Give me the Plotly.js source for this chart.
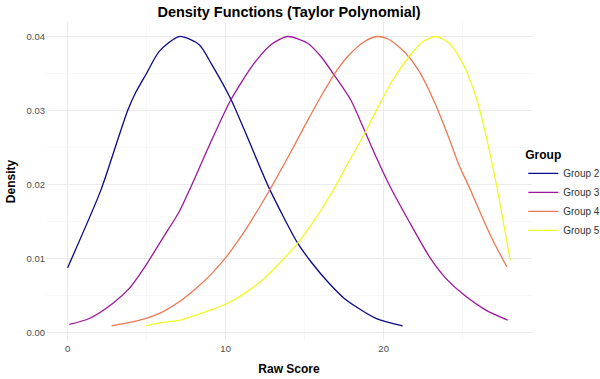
<!DOCTYPE html>
<html>
<head>
<meta charset="utf-8">
<script src="https://cdn.plot.ly/plotly-3.0.1.min.js"></script>
<style>html,body{margin:0;padding:0;background:#fff;}#chart{width:600px;height:379px;}</style>
</head>
<body>
<div id="chart"></div>
<script>
const groupNames = ["Group 2", "Group 3", "Group 4", "Group 5"];
const groupColors = ["#0D0887", "#9C179E", "#ED7953", "#F0F921"];

const g2x = [0, 2.11, 3.16, 3.80, 4.32, 4.96, 5.80, 7.06, 8.33, 9.07, 10.34, 11.18, 12.76, 14.56, 15.40, 16.46, 17.51, 19.51, 21.20];
const g2y = [0.0088, 0.0193, 0.0260, 0.0300, 0.0325, 0.0349, 0.0380, 0.0400, 0.0389, 0.0364, 0.0315, 0.0274, 0.0195, 0.0121, 0.0096, 0.0069, 0.00465, 0.00195, 0.00095];

const g3x = [0.1, 1.37, 2.85, 3.90, 4.96, 6.01, 7.06, 7.80, 9.07, 10.34, 11.81, 12.87, 13.92, 15.19, 16.03, 16.87, 17.93, 18.77, 19.51, 20.35, 21.62, 22.89, 23.94, 25.10, 26.47, 27.85];
const g3y = [0.00113, 0.00194, 0.00397, 0.0060, 0.00915, 0.01276, 0.01635, 0.0197, 0.0258, 0.0315, 0.0364, 0.0389, 0.0400, 0.0391, 0.0373, 0.0348, 0.0314, 0.0274, 0.0238, 0.0200, 0.0150, 0.0103, 0.00735, 0.0051, 0.00307, 0.00172];

const g4x = [2.78, 4.11, 4.96, 6.01, 7.06, 8.12, 9.07, 10.13, 11.18, 12.23, 12.90, 13.92, 14.97, 16.03, 16.87, 17.72, 18.77, 19.60, 20.35, 21.41, 22.25, 23.31, 24.15, 24.78, 25.45, 26.27, 26.90, 27.80];
const g4y = [0.00095, 0.00149, 0.00195, 0.00284, 0.0042, 0.0060, 0.0079, 0.0105, 0.01365, 0.01726, 0.0197, 0.0236, 0.0278, 0.0319, 0.0349, 0.0373, 0.0393, 0.0400, 0.0396, 0.0377, 0.0353, 0.0307, 0.0262, 0.0226, 0.0195, 0.01546, 0.01253, 0.0089];

const g5x = [4.96, 6.01, 7.06, 8.12, 9.07, 10.13, 11.18, 12.44, 13.50, 14.56, 15.40, 16.24, 16.93, 17.93, 18.77, 19.51, 20.57, 21.62, 22.47, 23.31, 24.15, 25.00, 25.84, 26.47, 27.11, 27.53, 28.01];
const g5y = [0.00095, 0.0014, 0.0017, 0.0024, 0.0031, 0.0040, 0.0053, 0.00735, 0.0096, 0.0121, 0.01455, 0.01726, 0.0197, 0.0236, 0.0268, 0.0299, 0.0341, 0.0373, 0.0393, 0.0400, 0.0391, 0.0364, 0.0319, 0.0267, 0.0203, 0.0155, 0.0098];

const xTickVals = [0, 10, 20];
const yTickVals = [0, 0.01, 0.02, 0.03, 0.04];

const xs = [g2x, g3x, g4x, g5x];
const ys = [g2y, g3y, g4y, g5y];

const traces = groupNames.map((name, i) => ({
  type: "scatter",
  mode: "lines",
  name: name,
  x: xs[i],
  y: ys[i],
  line: {color: groupColors[i], width: 1.3, shape: "spline", smoothing: 0.7}
}));

const layout = {
  width: 600,
  height: 379,
  paper_bgcolor: "#ffffff",
  plot_bgcolor: "#ffffff",
  margin: {l: 46, r: 68, t: 22, b: 38, autoexpand: false},
  font: {family: "Liberation Sans, Arial, sans-serif", color: "#4d4d4d", size: 9.5},
  title: {
    text: "<b>Density Functions (Taylor Polynomial)</b>",
    font: {size: 14.5, color: "#000000", family: "Liberation Sans, Arial, sans-serif"},
    x: 0.5, xref: "paper", xanchor: "center",
    y: 0.968, yref: "container", yanchor: "middle"
  },
  xaxis: {
    range: [-1.37, 29.39],
    tickvals: xTickVals,
    ticktext: xTickVals.map(String),
    showgrid: true,
    gridcolor: "#ebebeb",
    gridwidth: 1,
    minor: {dtick: 5, tick0: 5, showgrid: true, gridcolor: "#f3f3f3", gridwidth: 0.6},
    zeroline: false,
    showline: false,
    ticks: "",
    tickfont: {size: 9.5, color: "#4d4d4d"},
    title: {text: "<b>Raw Score</b>", font: {size: 12, color: "#000000"}, standoff: 12}
  },
  yaxis: {
    range: [-0.0011, 0.04196],
    tickvals: yTickVals,
    ticktext: yTickVals.map(v => v.toFixed(2)),
    showgrid: true,
    gridcolor: "#ebebeb",
    gridwidth: 1,
    minor: {dtick: 0.005, tick0: 0.005, showgrid: true, gridcolor: "#f3f3f3", gridwidth: 0.6},
    zeroline: false,
    showline: false,
    ticks: "",
    tickfont: {size: 9.5, color: "#4d4d4d"},
    title: {text: "<b>Density</b>", font: {size: 12, color: "#000000"}, standoff: 8}
  },
  legend: {
    x: 0.982, xanchor: "left",
    y: 0.62, yanchor: "top",
    title: {text: "<b>Group</b>", font: {size: 12, color: "#000000"}},
    font: {size: 10, color: "#333333"},
    itemwidth: 30,
    tracegroupgap: 0,
    bgcolor: "rgba(0,0,0,0)"
  },
  showlegend: true
};

Plotly.newPlot("chart", traces, layout, {displayModeBar: false, staticPlot: true});
</script>
</body>
</html>
